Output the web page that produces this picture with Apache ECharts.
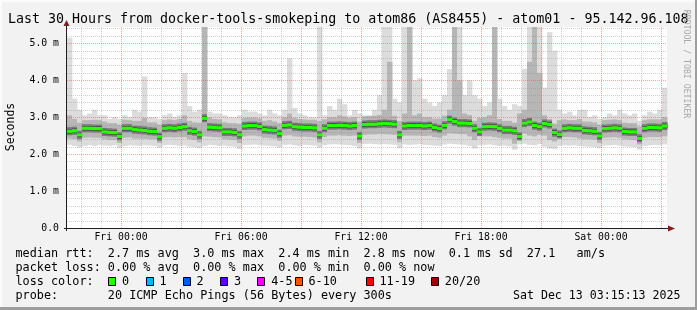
<!DOCTYPE html>
<html><head><meta charset="utf-8">
<script src="https://cdn.jsdelivr.net/npm/echarts@6/dist/echarts.min.js"></script>
<style>html,body{margin:0;padding:0;background:#f2f2f2}#c{width:697px;height:310px}</style>
</head><body><div id="c"></div>
<script>
// ---- data (hours relative to Fri 00:00, 15-minute slots, values in ms) ----
const startHour = -2.7;
const stepHours = 0.25;
const median = [
 2.62,2.63,2.52,2.70,2.70,2.69,2.69,2.60,2.59,2.58,
 2.48,2.70,2.70,2.66,2.65,2.64,2.62,2.61,2.47,2.70,
 2.71,2.70,2.72,2.74,2.63,2.61,2.52,2.97,2.73,2.72,
 2.71,2.60,2.60,2.59,2.52,2.76,2.77,2.77,2.75,2.66,
 2.65,2.64,2.55,2.78,2.79,2.74,2.73,2.72,2.72,2.71,
 2.52,2.70,2.77,2.77,2.78,2.77,2.76,2.77,2.49,2.80,
 2.81,2.81,2.82,2.83,2.82,2.81,2.52,2.76,2.77,2.77,
 2.77,2.76,2.77,2.72,2.69,2.78,2.93,2.88,2.84,2.84,
 2.83,2.70,2.60,2.74,2.75,2.74,2.70,2.65,2.65,2.63,
 2.48,2.84,2.87,2.77,2.74,2.83,2.80,2.58,2.53,2.70,
 2.71,2.70,2.70,2.64,2.63,2.62,2.49,2.69,2.70,2.71,
 2.70,2.61,2.60,2.60,2.43,2.70,2.72,2.72,2.71,2.76];
const smokeMin = [
 2.25,2.22,2.18,2.22,2.24,2.22,2.25,2.23,2.22,2.24,
 2.16,2.22,2.24,2.23,2.22,2.24,2.23,2.22,2.17,2.24,
 2.25,2.24,2.22,2.23,2.20,2.18,2.16,2.22,2.25,2.24,
 2.22,2.23,2.21,2.20,2.14,2.24,2.25,2.26,2.24,2.23,
 2.22,2.21,2.18,2.25,2.26,2.24,2.22,2.25,2.24,2.23,
 2.17,2.24,2.26,2.27,2.26,2.25,2.24,2.22,2.15,2.27,
 2.28,2.27,2.26,2.27,2.26,2.25,2.16,2.26,2.25,2.26,
 2.27,2.25,2.24,2.23,2.22,2.26,2.28,2.27,2.26,2.25,
 2.22,2.15,2.24,2.25,2.26,2.24,2.22,2.23,2.21,2.12,
 2.26,2.28,2.25,2.24,2.27,2.20,2.15,2.14,2.22,2.24,
 2.23,2.24,2.22,2.21,2.20,2.19,2.16,2.23,2.24,2.25,
 2.23,2.21,2.20,2.19,2.12,2.22,2.24,2.25,2.24,2.26];
const smokeLowMid = [
 2.42,2.40,2.34,2.44,2.45,2.44,2.44,2.40,2.38,2.38,
 2.30,2.44,2.45,2.42,2.42,2.41,2.40,2.40,2.30,2.45,
 2.46,2.45,2.46,2.46,2.40,2.38,2.32,2.48,2.47,2.46,
 2.45,2.40,2.39,2.38,2.30,2.48,2.50,2.50,2.48,2.44,
 2.43,2.42,2.36,2.50,2.51,2.48,2.47,2.47,2.46,2.45,
 2.32,2.46,2.50,2.50,2.51,2.50,2.49,2.50,2.30,2.52,
 2.53,2.53,2.54,2.54,2.53,2.52,2.32,2.50,2.50,2.50,
 2.50,2.49,2.50,2.46,2.44,2.50,2.56,2.55,2.54,2.54,
 2.48,2.38,2.48,2.48,2.48,2.46,2.44,2.42,2.42,2.28,
 2.52,2.55,2.50,2.48,2.52,2.50,2.38,2.34,2.46,2.46,
 2.46,2.45,2.42,2.40,2.40,2.39,2.30,2.44,2.45,2.46,
 2.44,2.40,2.39,2.38,2.26,2.44,2.46,2.46,2.46,2.48];
const smokeHighMid = [
 3.05,2.95,2.85,2.92,2.92,2.93,2.92,2.88,2.84,2.84,
 2.80,2.93,2.92,2.90,2.90,2.98,2.86,2.86,2.80,2.92,
 2.94,2.92,2.95,3.05,2.90,2.86,2.85,5.44,3.00,2.95,
 2.94,2.86,2.84,2.84,2.82,2.98,2.99,2.99,2.97,2.90,
 2.92,2.88,2.84,3.00,3.10,2.98,2.95,2.94,2.93,2.93,
 2.90,2.94,3.00,3.00,3.05,3.02,2.98,3.00,2.88,3.02,
 3.03,3.04,3.06,3.20,4.50,3.04,2.90,3.10,5.44,3.05,
 3.10,3.00,3.00,2.96,2.96,3.04,3.20,5.44,4.00,3.10,
 3.06,2.90,2.98,3.00,3.05,5.44,2.95,2.90,2.90,2.85,
 3.10,3.20,4.50,5.44,4.20,3.05,2.95,2.82,2.92,2.94,
 2.92,2.92,2.95,2.88,2.88,2.86,2.80,2.92,2.93,2.94,
 2.92,2.85,2.84,2.84,2.75,2.92,2.94,2.94,2.94,3.00];
const smokeMax = [
 5.15,3.50,3.20,3.05,3.10,3.20,3.05,3.05,2.95,3.00,
 2.95,3.05,3.00,3.20,3.15,4.10,3.00,3.00,2.95,3.05,
 3.10,3.00,3.05,4.20,3.30,3.15,3.20,5.44,3.15,3.10,
 3.10,3.05,3.00,3.00,3.05,3.20,3.15,3.15,3.10,3.05,
 3.20,3.10,3.05,3.20,4.60,3.25,3.10,3.05,3.00,3.00,
 5.44,3.05,3.30,3.20,3.50,3.35,3.05,3.20,3.10,3.05,
 3.05,3.20,3.60,5.44,5.44,3.50,3.40,5.44,5.44,4.00,
 4.05,3.50,3.40,3.30,3.40,3.60,4.30,5.44,5.44,3.60,
 4.00,3.60,3.50,3.30,3.40,5.44,3.50,3.30,3.20,3.35,
 3.30,4.30,5.44,5.44,5.44,3.80,5.30,4.80,3.20,3.10,
 3.15,3.05,3.20,3.20,3.00,3.05,2.95,3.00,3.10,3.05,
 3.20,3.10,3.05,3.10,2.90,3.05,3.15,3.10,3.20,3.80];
const yTickValues = [0, 1, 2, 3, 4, 5];
const xTickHours = [0, 6, 12, 18, 24];
const xTickLabels = ['Fri 00:00', 'Fri 06:00', 'Fri 12:00', 'Fri 18:00', 'Sat 00:00'];
const lossLabels = ['0', '1', '2', '3', '4-5', '6-10', '11-19', '20/20'];
const lossColors = ['#26ff00', '#00b8ff', '#0059ff', '#5e00ff', '#ff00ff', '#ff5500', '#ff0000', '#a10000'];
const titleText = 'Last 30 Hours from docker-tools-smokeping to atom86 (AS8455) - atom01 - 95.142.96.108';
const statLines = [
 'median rtt:  2.7 ms avg  3.0 ms max  2.4 ms min  2.8 ms now  0.1 ms sd  27.1   am/s',
 'packet loss: 0.00 % avg  0.00 % max  0.00 % min  0.00 % now',
 'loss color:',
 'probe:       20 ICMP Echo Pings (56 Bytes) every 300s'
];
const dateText = 'Sat Dec 13 03:15:13 2025';
const yMax = 5.44;

// ---- chart ----
const MONO = '"DejaVu Sans Mono", monospace';
const chart = echarts.init(document.getElementById('c'), null, {width: 697, height: 310});
const rows = median.map((m, i) => [startHour + i * stepHours, startHour + (i + 1) * stepHours,
  smokeMin[i], smokeLowMid[i], smokeHighMid[i], smokeMax[i], m]);

function band(api, x0, x1, lo, hi, fill) {
  const a = api.coord([x0, hi]), b = api.coord([x1, lo]);
  return {type: 'rect', shape: {x: a[0], y: a[1], width: b[0] - a[0] + 0.4, height: b[1] - a[1]},
    style: {fill: fill}};
}

const gridRows = [];
for (let h = Math.ceil(startHour); h <= startHour + 30; h++) gridRows.push([0, h, h % 3 === 0 ? 1 : 0]);
for (let k = 1; k * 0.2 < yMax; k++) gridRows.push([1, +(k * 0.2).toFixed(1), k % 5 === 0 ? 1 : 0]);

const graphic = [];
graphic.push({type: 'rect', shape: {x: 0, y: 0, width: 697, height: 2}, style: {fill: '#fbfbfb'}, silent: true});
graphic.push({type: 'rect', shape: {x: 0, y: 0, width: 2, height: 310}, style: {fill: '#fbfbfb'}, silent: true});
graphic.push({type: 'rect', shape: {x: 695, y: 0, width: 2, height: 310}, style: {fill: '#9e9e9e'}, silent: true});
graphic.push({type: 'rect', shape: {x: 0, y: 307, width: 697, height: 3}, style: {fill: '#9e9e9e'}, silent: true});
// axes lines and arrows
graphic.push({type: 'line', shape: {x1: 64, y1: 228.5, x2: 670, y2: 228.5}, style: {stroke: '#1f1f1f', lineWidth: 1}, z: 20});
graphic.push({type: 'line', shape: {x1: 66.5, y1: 231, x2: 66.5, y2: 24}, style: {stroke: '#1f1f1f', lineWidth: 1}, z: 20});
graphic.push({type: 'polygon', shape: {points: [[668, 225.5], [675, 228.5], [668, 231.5]]}, style: {fill: '#801f1f'}, z: 20});
graphic.push({type: 'polygon', shape: {points: [[63.5, 26], [66.5, 20], [69.5, 26]]}, style: {fill: '#801f1f'}, z: 20});
// title
graphic.push({type: 'text', x: 8, y: 19.5, style: {text: titleText, font: '13.3px ' + MONO, fill: '#000', textVerticalAlign: 'middle'}, z: 20});
// y axis name
graphic.push({type: 'text', x: 11, y: 127, rotation: Math.PI / 2,
  style: {text: 'Seconds', font: '11.5px ' + MONO, fill: '#000', textAlign: 'center', textVerticalAlign: 'middle'}, z: 20});
// rrdtool credit
graphic.push({type: 'text', x: 686.5, y: 64, rotation: -Math.PI / 2,
  style: {text: 'RRDTOOL / TOBI OETIKER', font: '8.2px ' + MONO, fill: '#a8a8a8', textAlign: 'center', textVerticalAlign: 'middle'}, z: 20});
// legend lines
const lineY = [254, 268.2, 282.3, 296.4];
statLines.forEach((t, i) => graphic.push({type: 'text', x: 15.5, y: lineY[i],
  style: {text: t, font: '11.8px ' + MONO, fill: '#000', textVerticalAlign: 'middle'}, z: 20}));
graphic.push({type: 'text', x: 680.5, y: lineY[3],
  style: {text: dateText, font: '11.6px ' + MONO, fill: '#000', textAlign: 'right', textVerticalAlign: 'middle'}, z: 20});
const boxX = [108.3, 145.6, 182.8, 220.1, 257.4, 294.7, 365.7, 431];
lossLabels.forEach((lab, i) => {
  graphic.push({type: 'rect', shape: {x: Math.round(boxX[i]) + 0.5, y: 277.5, width: 7, height: 8},
    style: {fill: lossColors[i], stroke: '#000', lineWidth: 1}, z: 20});
  graphic.push({type: 'text', x: boxX[i] + 13.8, y: lineY[2],
    style: {text: lab, font: '11.8px ' + MONO, fill: '#000', textVerticalAlign: 'middle'}, z: 20});
});

chart.setOption({
  animation: false,
  backgroundColor: '#f2f2f2',
  grid: {left: 67, top: 27, width: 600, height: 201, show: true, backgroundColor: '#ffffff', borderWidth: 0},
  xAxis: {type: 'value', min: startHour, max: startHour + 30,
    axisLine: {show: false}, axisTick: {show: false}, splitLine: {show: false},
    axisLabel: {customValues: xTickHours, margin: 4, color: '#000', fontFamily: 'DejaVu Sans Mono', fontSize: 9.8,
      formatter: v => xTickLabels[xTickHours.indexOf(Math.round(v))] || ''}},
  yAxis: {type: 'value', min: 0, max: yMax, interval: 1,
    axisLine: {show: false}, axisTick: {show: false}, splitLine: {show: false},
    axisLabel: {margin: 8, color: '#000', fontFamily: 'DejaVu Sans Mono', fontSize: 9.8,
      customValues: yTickValues,
      formatter: v => v === 0 ? '0.0' : v.toFixed(1) + ' m'}},
  graphic: graphic,
  series: [
    {type: 'custom', name: 'smoke', z: 2, silent: true, data: rows, encode: {x: [0, 1], y: [2, 5]},
      renderItem: (p, api) => {
        const x0 = api.value(0), x1 = api.value(1), m = api.value(6);
        return {type: 'group', children: [
          band(api, x0, x1, api.value(2), api.value(5), '#dcdcdc'),
          band(api, x0, x1, api.value(3), api.value(4), '#b6b6b6'),
          band(api, x0, x1, m - 0.11, m + 0.11, '#7a7a7a'),
          band(api, x0, x1, m - 0.06, m + 0.06, '#333333')
        ]};
      }},
    {type: 'custom', name: 'grid', z: 3, silent: true, data: gridRows, encode: {x: 1, y: 1},
      renderItem: (p, api) => {
        const o = api.value(0), v = api.value(1), major = api.value(2);
        let a, b;
        if (o === 0) { a = api.coord([v, 0]); b = api.coord([v, yMax]); a[0] = b[0] = Math.round(a[0]) + 0.5; }
        else { a = api.coord([startHour, v]); b = api.coord([startHour + 30, v]); a[1] = b[1] = Math.round(a[1]) + 0.5; }
        return {type: 'line', shape: {x1: a[0], y1: a[1], x2: b[0], y2: b[1]},
          style: {stroke: major ? 'rgba(222,79,79,0.5)' : 'rgba(143,143,143,0.42)', lineWidth: 1, lineDash: [1, 1]}};
      }},
    {type: 'custom', name: 'median', z: 4, silent: true, data: rows, encode: {x: [0, 1], y: 6},
      renderItem: (p, api) => {
        const x0 = api.value(0), x1 = api.value(1), m = api.value(6);
        return band(api, x0, x1, m - 0.045, m + 0.045, lossColors[0]);
      }}
  ]
});
</script></body></html>
